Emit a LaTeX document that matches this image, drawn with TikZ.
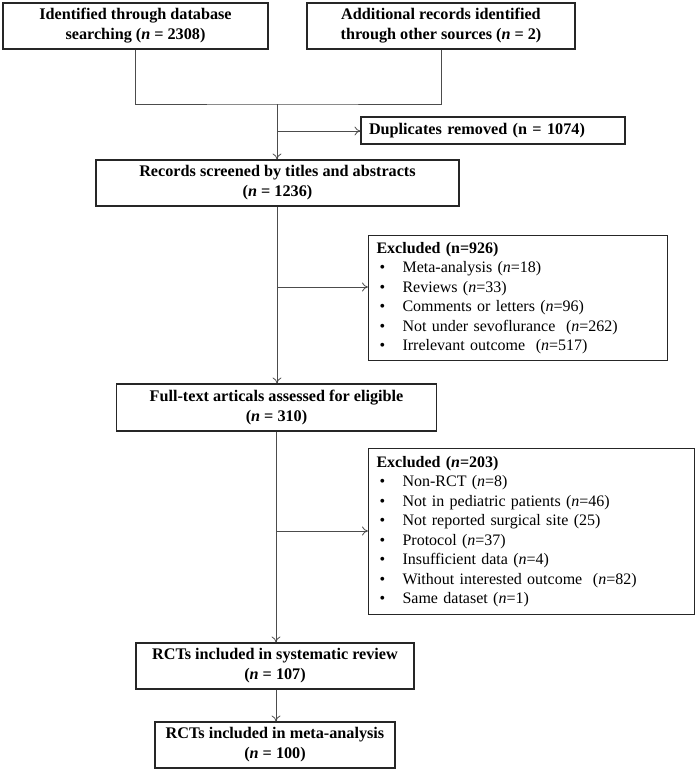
\documentclass[tikz,border=0pt]{standalone}
\usepackage{fontspec}
\setmainfont{Liberation Serif}
\usetikzlibrary{arrows.meta}
\begin{document}
\begin{tikzpicture}[x=1pt,y=-1pt,
  box/.style={draw=black!85,line width=1.1pt,inner sep=0pt,align=center,font=\fontsize{16.2}{20}\selectfont\bfseries},
  listbox/.style={draw=black!85,line width=1.1pt,inner xsep=8pt,inner ysep=0pt,align=left,anchor=north west,font=\fontsize{16}{19.5}\selectfont},
  conn/.style={draw=black!70,line width=0.8pt},
  arr/.style={conn,-{To[length=6pt,width=9pt]}}]
\useasboundingbox (0,0) rectangle (699,772);
\newcommand{\itm}[1]{\makebox[26pt][l]{\hspace{3pt}\textbullet}#1\\}
\node[box,minimum width=265pt,minimum height=46pt] (A) at (135.5,26) {Identified through database\\searching (\textit{n} = 2308)};
\node[box,minimum width=268pt,minimum height=46pt] (B) at (441,26) {Additional records identified\\through other sources (\textit{n} = 2)};
\node[box,minimum width=264pt,minimum height=27pt,align=left,text width=248pt] (D) at (493,130.5) {Duplicates removed (n = 1074)};
\node[box,minimum width=363pt,minimum height=46pt] (R) at (277.5,183) {Records screened by titles and abstracts\\(\textit{n} = 1236)};
\node[listbox,minimum width=299pt,minimum height=125pt,text width=283pt] (E1) at (368,235) {\textbf{Excluded (n=926)}\\
\itm{Meta-analysis (\textit{n}=18)}
\itm{Reviews (\textit{n}=33)}
\itm{Comments or letters (\textit{n}=96)}
\itm{Not under sevoflurance\ \ (\textit{n}=262)}
\makebox[26pt][l]{\hspace{3pt}\textbullet}Irrelevant outcome\ \ (\textit{n}=517)};
\node[box,minimum width=320pt,minimum height=47pt] (F) at (276.5,407.5) {Full-text articals assessed for eligible\\(\textit{n} = 310)};
\node[listbox,minimum width=326pt,minimum height=166pt,text width=310pt] (E2) at (368,448) {\textbf{Excluded (\textit{n}=203)}\\
\itm{Non-RCT (\textit{n}=8)}
\itm{Not in pediatric patients (\textit{n}=46)}
\itm{Not reported surgical site (25)}
\itm{Protocol (\textit{n}=37)}
\itm{Insufficient data (\textit{n}=4)}
\itm{Without interested outcome\ \ (\textit{n}=82)}
\makebox[26pt][l]{\hspace{3pt}\textbullet}Same dataset (\textit{n}=1)};
\node[box,minimum width=278pt,minimum height=46pt] (S) at (275,666) {RCTs included in systematic review\\(\textit{n} = 107)};
\node[box,minimum width=240pt,minimum height=46pt] (M) at (275,745) {RCTs included in meta-analysis\\(\textit{n} = 100)};
\coordinate (jm) at (277,104);
\coordinate (b1) at (277,131);
\coordinate (b2) at (277,287);
\coordinate (b3) at (276,531);
\draw[conn] (A.south) |- (jm) -| (B.south);
\draw[arr] (jm) -- (jm |- R.north);
\draw[arr] (b1) -- (D.west |- b1);
\draw[arr] (R.south -| jm) -- (jm |- F.north);
\draw[arr] (b2) -- (E1.west |- b2);
\draw[arr] (F.south -| b3) -- (b3 |- S.north);
\draw[arr] (b3) -- (E2.west |- b3);
\draw[arr] (S.south -| b3) -- (b3 |- M.north);
\end{tikzpicture}
\end{document}
